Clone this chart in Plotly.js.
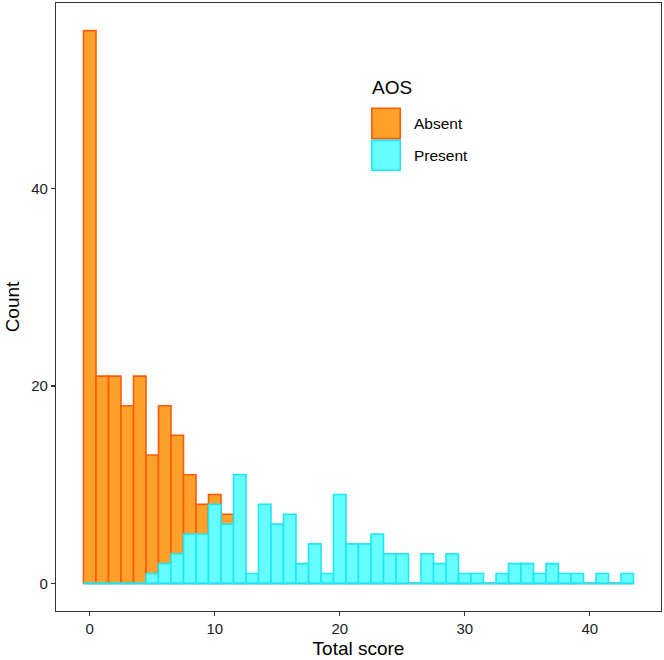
<!DOCTYPE html>
<html>
<head>
<meta charset="utf-8">
<script src="https://cdn.plot.ly/plotly-3.0.1.min.js"></script>
<style>
html,body{margin:0;padding:0;background:#fff;}
#chart{width:664px;height:660px;}
</style>
</head>
<body>
<div id="chart"></div>
<script>
// Total score bins (width 1, centred on integers)
const scoreBins = [0,1,2,3,4,5,6,7,8,9,10,11,12,13,14,15,16,17,18,19,20,21,22,23,24,25,26,27,28,29,30,31,32,33,34,35,36,37,38,39,40,41,42,43];
// Counts for AOS = Absent
const absentCounts = [56,21,21,18,21,13,18,15,11,8,9,7,0,0,0,0,0,0,0,0,0,0,0,0,0,0,0,0,0,0,0,0,0,0,0,0,0,0,0,0,0,0,0,0];
// Counts for AOS = Present
const presentCounts = [0,0,0,0,0,1,2,3,5,5,8,6,11,1,8,6,7,2,4,1,9,4,4,5,3,3,0,3,2,3,1,1,0,1,2,2,1,2,1,1,0,1,0,1];
const groupNames = ["Absent","Present"];
const legendTitle = "AOS";
const xTicks = [0,10,20,30,40];
const yTicks = [0,20,40];

const absentFill = "#FFA12B", absentLine = "#FF5A0A";
const presentFill = "#66FFFF", presentLine = "#1EE6F5";
const binWidth = 1;
const font = "Liberation Sans, Arial, Helvetica, sans-serif";

const traces = [
  {type:"bar", name:groupNames[0], x:scoreBins, y:absentCounts, width:binWidth,
   marker:{color:absentFill, line:{color:absentLine, width:1.6}}, showlegend:false, hoverinfo:"x+y"},
  {type:"bar", name:groupNames[1], x:scoreBins, y:presentCounts, width:binWidth,
   marker:{color:presentFill, line:{color:presentLine, width:1.6}}, showlegend:false, hoverinfo:"x+y"},
  {type:"scatter", mode:"lines", x:[scoreBins[0]-binWidth/2, scoreBins[scoreBins.length-1]+binWidth/2], y:[0,0],
   line:{color:presentLine, width:1.8}, showlegend:false, hoverinfo:"skip"}
];

// manual legend (ggplot-style large keys)
const kx0 = 0.522, kx1 = 0.569;
const shapes = [
  {type:"rect", xref:"paper", yref:"paper", x0:kx0, x1:kx1, y0:0.777, y1:0.827,
   fillcolor:absentFill, line:{color:absentLine, width:1.6}},
  {type:"rect", xref:"paper", yref:"paper", x0:kx0, x1:kx1, y0:0.725, y1:0.774,
   fillcolor:presentFill, line:{color:presentLine, width:1.6}}
];
const annotations = [
  {xref:"paper", yref:"paper", x:kx0-0.003, y:0.861, xanchor:"left", yanchor:"middle", showarrow:false,
   text:legendTitle, font:{family:font, size:19, color:"#000"}},
  {xref:"paper", yref:"paper", x:0.588, y:0.802, xanchor:"left", yanchor:"middle", showarrow:false,
   text:groupNames[0], font:{family:font, size:15.5, color:"#000"}},
  {xref:"paper", yref:"paper", x:0.588, y:0.750, xanchor:"left", yanchor:"middle", showarrow:false,
   text:groupNames[1], font:{family:font, size:15.5, color:"#000"}}
];

const layout = {
  width:664, height:660,
  margin:{l:56, r:3, t:3, b:49},
  paper_bgcolor:"#fff", plot_bgcolor:"#fff",
  barmode:"overlay", bargap:0,
  showlegend:false,
  font:{family:font, color:"#000"},
  xaxis:{range:[-2.7,45.7], tickvals:xTicks, ticks:"outside", ticklen:4, tickwidth:1.1, tickcolor:"#333",
    showgrid:false, zeroline:false, showline:true, mirror:true, linecolor:"#333", linewidth:1.1,
    tickfont:{family:font, size:15, color:"#222"},
    title:{text:"Total score", font:{family:font, size:19, color:"#000"}, standoff:5}},
  yaxis:{range:[-2.8,58.8], tickvals:yTicks, ticks:"outside", ticklen:4, tickwidth:1.1, tickcolor:"#333",
    showgrid:false, zeroline:false, showline:true, mirror:true, linecolor:"#333", linewidth:1.1,
    tickfont:{family:font, size:15, color:"#222"},
    title:{text:"Count", font:{family:font, size:19, color:"#000"}, standoff:6}},
  shapes:shapes, annotations:annotations
};

Plotly.newPlot("chart", traces, layout, {displayModeBar:false, staticPlot:true});
</script>
</body>
</html>
